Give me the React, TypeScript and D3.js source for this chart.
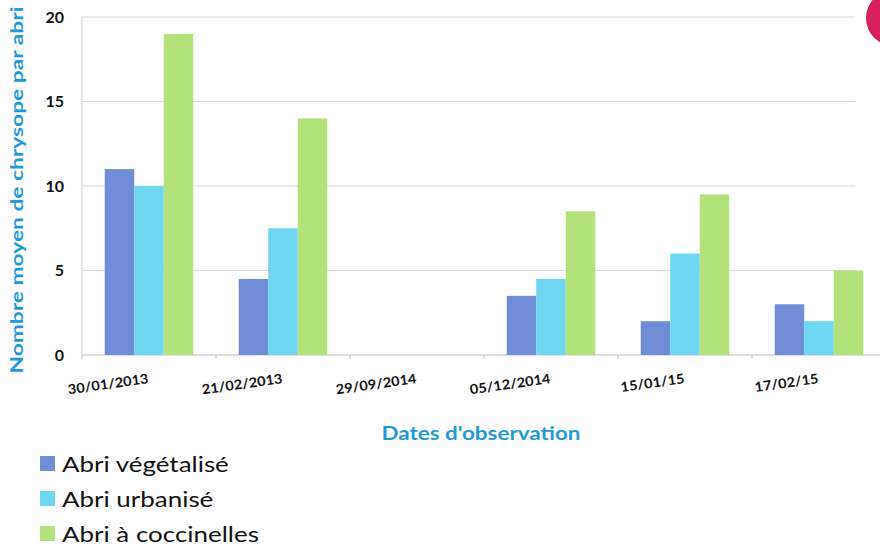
import React from "react";
import * as d3 from "d3";

const categories = ["30/01/2013", "21/02/2013", "29/09/2014", "05/12/2014", "15/01/15", "17/02/15"];
const seriesNames = ["Abri végétalisé", "Abri urbanisé", "Abri à coccinelles"];
const vegetalise = [11, 4.5, 0, 3.5, 2, 3];
const urbanise = [10, 7.5, 0, 4.5, 6, 2];
const coccinelles = [19, 14, 0, 8.5, 9.5, 5];
const yTicks = [0, 5, 10, 15, 20];
const colors = ["#6f8cd6", "#6fd6f2", "#b3e27b"];

const W = 880;
const H = 558;
const left = 82;
const right = 886;
const top = 17;
const bottom = 355;
const font = "Lato, 'Open Sans', sans-serif";
// horizontal stretch factor for text (reference font is wider than Lato)
const stretch = 1.18;

function Stretched(props: any) {
  const { x = 0, y = 0, anchor = "start", children, ...rest } = props;
  return (
    <g transform={`translate(${x},${y}) scale(${stretch},1)`}>
      <text x={0} y={0} textAnchor={anchor} {...rest}>
        {children}
      </text>
    </g>
  );
}

export default function App() {
  const series = [vegetalise, urbanise, coccinelles];
  const x0 = d3.scaleBand<string>().domain(categories).range([left, right]).paddingInner(0).paddingOuter(0);
  const x1 = d3.scaleBand<number>().domain([0, 1, 2]).range([0, x0.bandwidth()]).paddingOuter(0.77);
  const y = d3.scaleLinear().domain([0, 20]).range([bottom, top]);
  const boundaries = categories.map((c) => (x0(c) as number) + x0.bandwidth());
  const blue = "#1f9ad8";
  return (
    <svg width={W} height={H} style={{ position: "absolute", left: 0, top: 0, background: "#fff" }}>
      {yTicks.map((t) => (
        <g key={t}>
          {t > 0 && <line x1={left} x2={855} y1={y(t)} y2={y(t)} stroke="#d9d9d9" strokeWidth={1.2} />}
          <text x={64} y={y(t)} dy="0.35em" textAnchor="end" fontFamily={font} fontWeight={700} fontSize={16} fill="#111">
            {t}
          </text>
        </g>
      ))}
      <line x1={left} x2={left} y1={top} y2={bottom} stroke="#d9d9d9" strokeWidth={1.2} />
      <line x1={left} x2={right} y1={bottom} y2={bottom} stroke="#bfbfbf" strokeWidth={1.2} />
      {[left, ...boundaries].map((b, i) => (
        <line key={i} x1={b} x2={b} y1={bottom} y2={bottom + 4} stroke="#bfbfbf" strokeWidth={1} />
      ))}
      {series.map((vals, s) =>
        categories.map((c, i) =>
          vals[i] > 0 ? (
            <rect
              key={`${s}-${i}`}
              x={(x0(c) as number) + (x1(s) as number)}
              y={y(vals[i])}
              width={x1.bandwidth()}
              height={bottom - y(vals[i])}
              fill={colors[s]}
            />
          ) : null
        )
      )}
      {categories.map((c) => {
        const cx = (x0(c) as number) + x0.bandwidth() / 2;
        return (
          <g key={c} transform={`translate(${cx},${383}) rotate(-8)`}>
            <g transform={`scale(1.08,1)`}>
              <text textAnchor="end" fontFamily={font} fontWeight={700} fontSize={13.5} fill="#111">
                {c}
              </text>
            </g>
          </g>
        );
      })}
      <g transform={`translate(23,190) rotate(-90)`}>
        <g transform={`scale(1.34,1)`}>
          <text textAnchor="middle" fontFamily={font} fontWeight={700} fontSize={17} fill={blue}>
            Nombre moyen de chrysope par abri
          </text>
        </g>
      </g>
      <Stretched x={481} y={440} anchor="middle" fontFamily={font} fontWeight={700} fontSize={19} fill={blue}>
        Dates d'observation
      </Stretched>
      {seriesNames.map((n, i) => (
        <g key={n} transform={`translate(40,${464 + i * 35})`}>
          <rect x={0} y={-8} width={15} height={15} fill={colors[i]} />
          <Stretched x={22} y={0} dy="0.35em" fontFamily={font} fontSize={22} fill="#111">
            {n}
          </Stretched>
        </g>
      ))}
      <circle cx={894} cy={18} r={28} fill="#d81e5b" />
    </svg>
  );
}
